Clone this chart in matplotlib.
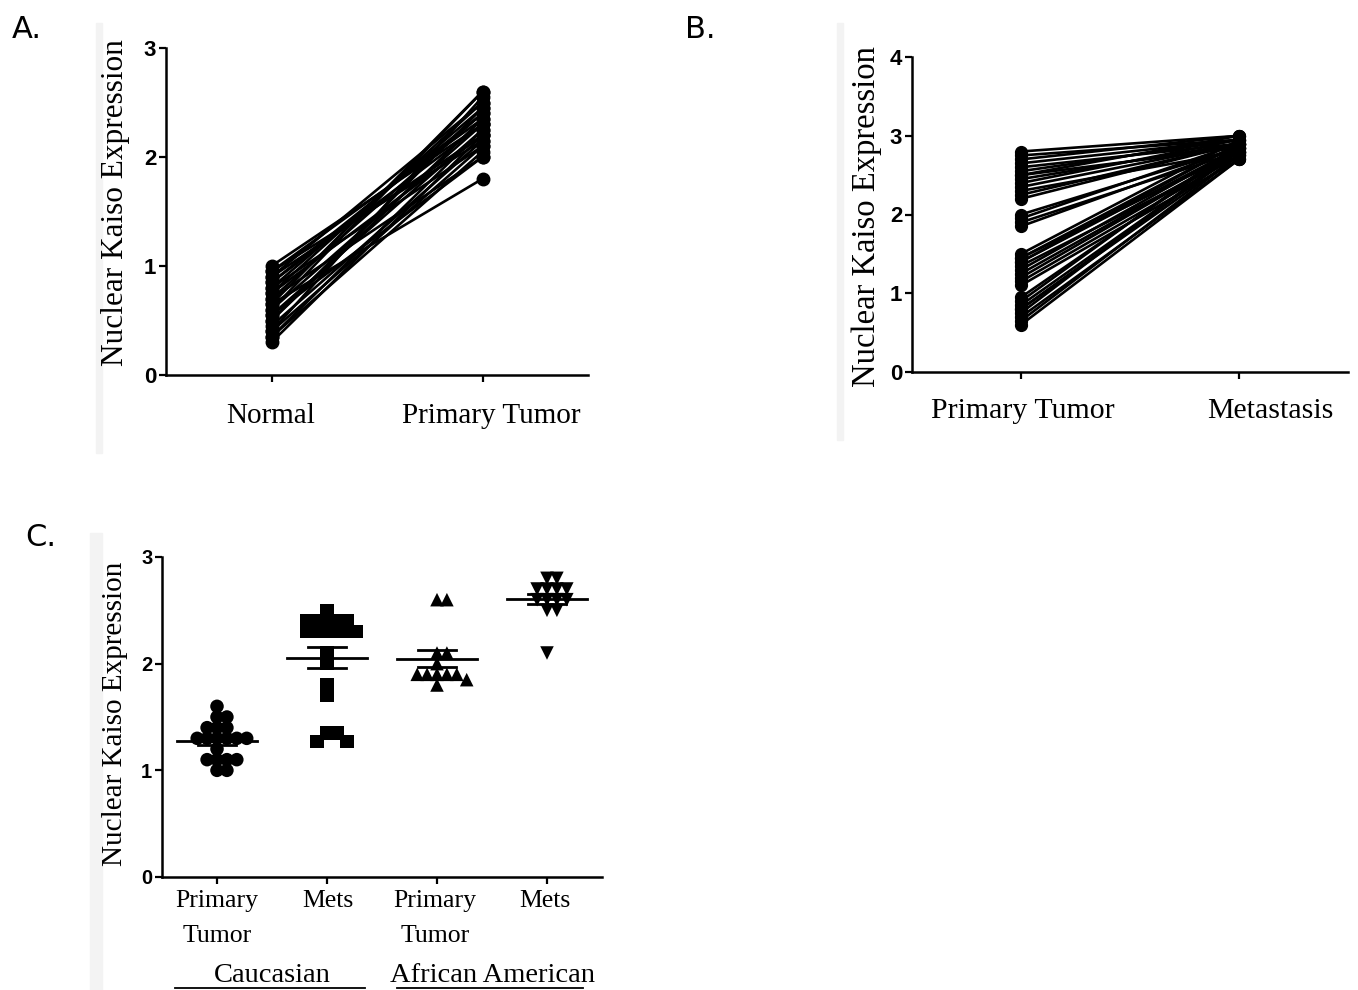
import numpy as np
import matplotlib.pyplot as plt
from matplotlib.patches import Rectangle
from matplotlib.lines import Line2D

# panel A: paired normal vs primary tumor
a_normal = [1.0, 0.95, 0.9, 0.85, 0.8, 0.75, 0.7, 0.65, 0.6, 0.55, 0.5, 0.45, 0.4, 0.35, 0.3,
            0.65, 0.85, 0.5, 0.7, 0.9, 0.4, 0.6, 0.75, 0.55, 0.8, 0.35, 0.95]
a_tumor = [2.3, 2.35, 2.2, 2.4, 2.1, 2.5, 2.0, 1.8, 2.6, 2.25, 2.45, 2.15, 2.55, 2.05, 2.2,
           2.6, 2.3, 2.35, 2.4, 2.5, 2.1, 2.3, 2.2, 2.0, 2.45, 2.25, 2.15]
a_labels = ["Normal", "Primary Tumor"]

# panel B: paired primary tumor vs metastasis
b_primary = [2.8, 2.75, 2.7, 2.6, 2.55, 2.5, 2.45, 2.4, 2.3, 2.2, 2.0, 1.95, 1.9,
             1.5, 1.45, 1.4, 1.35, 1.3, 1.2, 1.1, 0.9, 0.85, 0.8, 0.75, 0.7, 0.6,
             2.65, 2.35, 2.5, 1.85, 1.45, 1.25, 1.15, 0.95, 0.65, 0.8, 2.25, 1.4]
b_meta = [3.0, 2.95, 3.0, 2.9, 2.95, 2.85, 2.9, 2.95, 2.8, 2.9, 2.85, 2.9, 2.8,
          2.95, 2.8, 2.9, 2.75, 2.85, 2.8, 2.7, 2.9, 2.8, 2.75, 2.85, 2.7, 2.7,
          2.95, 2.9, 3.0, 2.85, 2.9, 2.8, 2.75, 2.85, 2.75, 2.8, 2.9, 2.85]
b_labels = ["Primary Tumor", "Metastasis"]

# panel C: column scatter
c_cauc_primary = [1.6, 1.5, 1.5, 1.4, 1.4, 1.4, 1.3, 1.3, 1.3, 1.3, 1.3, 1.3, 1.2, 1.1, 1.1, 1.1, 1.1, 1.0, 1.0]
c_cauc_mets = [2.5, 2.4, 2.4, 2.4, 2.4, 2.4, 2.3, 2.3, 2.3, 2.3, 2.3, 2.3, 2.1, 2.0, 1.8, 1.7, 1.35, 1.35, 1.27, 1.27]
c_aa_primary = [2.6, 2.6, 2.1, 2.1, 2.0, 1.9, 1.9, 1.9, 1.9, 1.9, 1.85, 1.8]
c_aa_mets = [2.8, 2.8, 2.7, 2.7, 2.7, 2.7, 2.6, 2.6, 2.6, 2.6, 2.5, 2.5, 2.1]
c_labels = ["Primary\nTumor", "Mets", "Primary\nTumor", "Mets"]
c_groups = ["Caucasian", "African American"]

W, H = 1358, 990
SERIF = "Liberation Serif"
SANS = "Liberation Sans"

fig = plt.figure(figsize=(W / 100, H / 100), dpi=100)


def box(x0, y0, x1, y1):
    return [x0 / W, 1 - y1 / H, (x1 - x0) / W, (y1 - y0) / H]


def fx(x):
    return x / W


def fy(y):
    return 1 - y / H


def style(ax, ticksize):
    for s in ["top", "right"]:
        ax.spines[s].set_visible(False)
    for s in ["left", "bottom"]:
        ax.spines[s].set_linewidth(1.8)
    ax.tick_params(length=5, width=1.6, direction="out", pad=2)
    for t in ax.get_yticklabels():
        t.set_fontfamily(SANS)
        t.set_fontweight("bold")
        t.set_fontsize(ticksize)


# faint gray strips at the left of each pasted panel
for x0, y0, x1, y1 in [(96, 23, 102, 453), (837, 23, 843, 440), (90, 533, 102, 990)]:
    fig.patches.append(Rectangle((fx(x0), fy(y1)), (x1 - x0) / W, (y1 - y0) / H,
                                 transform=fig.transFigure, color="#f3f3f3", zorder=0))

# ---- panel A
axA = fig.add_axes(box(166, 48, 588, 375))
for n, t in zip(a_normal, a_tumor):
    axA.plot([1, 2], [n, t], color="black", lw=1.9, marker="o", ms=9, clip_on=False)
axA.set_xlim(0.5, 2.5)
axA.set_ylim(0, 3)
axA.set_yticks([0, 1, 2, 3])
axA.set_xticks([1, 2])
axA.set_xticklabels(["", ""])
style(axA, 16)
fig.text(fx(271), fy(423), a_labels[0], family=SERIF, fontsize=21, ha="center", va="baseline")
fig.text(fx(491), fy(423), a_labels[1], family=SERIF, fontsize=21, ha="center", va="baseline")
fig.text(fx(115), fy(203), "Nuclear Kaiso Expression", family=SERIF, fontsize=22.5,
         rotation=90, ha="center", va="center")

# ---- panel B
axB = fig.add_axes(box(912, 57, 1348, 372))
for p, m in zip(b_primary, b_meta):
    axB.plot([1, 2], [p, m], color="black", lw=1.9, marker="o", ms=8.5, clip_on=False)
axB.set_xlim(0.5, 2.5)
axB.set_ylim(0, 4)
axB.set_yticks([0, 1, 2, 3, 4])
axB.set_xticks([1, 2])
axB.set_xticklabels(["", ""])
style(axB, 16)
fig.text(fx(1023), fy(418), b_labels[0], family=SERIF, fontsize=21.5, ha="center", va="baseline")
fig.text(fx(1270), fy(418), b_labels[1], family=SERIF, fontsize=21.5, ha="center", va="baseline")
fig.text(fx(867), fy(217), "Nuclear Kaiso Expression", family=SERIF, fontsize=23.5,
         rotation=90, ha="center", va="center")

# ---- panel C
axC = fig.add_axes(box(162, 557, 602, 877))
PX_X, PX_Y = 110.0, 107.0  # pixels per data unit in panel C


def swarm(vals, step, dmin):
    # simple beeswarm: put each point at the nearest free slot
    placed = []
    offs = []
    for v in vals:
        k = 0
        while True:
            cands = [0.0] if k == 0 else [k * step, -k * step]
            ok = None
            for c in cands:
                if all(np.hypot((c - ox) * PX_X, (v - oy) * PX_Y) >= dmin for ox, oy in placed):
                    ok = c
                    break
            if ok is not None:
                break
            k += 1
        placed.append((ok, v))
        offs.append(ok)
    return np.array(offs)


c_data = [c_cauc_primary, c_cauc_mets, c_aa_primary, c_aa_mets]
c_markers = ["o", "s", "^", "v"]
for i, (vals, mk) in enumerate(zip(c_data, c_markers)):
    x = i + 1 + swarm(vals, 0.09, 9)
    axC.scatter(x, vals, marker=mk, s=95, color="black", edgecolors="none", zorder=3)
    v = np.asarray(vals)
    mean = v.mean()
    sem = v.std(ddof=1) / np.sqrt(len(v))
    axC.plot([i + 1 - 0.36, i + 1 + 0.36], [mean, mean], color="black", lw=2, zorder=4)
    for yy in (mean - sem, mean + sem):
        axC.plot([i + 1 - 0.17, i + 1 + 0.17], [yy, yy], color="black", lw=2, zorder=4)
    axC.plot([i + 1, i + 1], [mean - sem, mean + sem], color="black", lw=2, zorder=4)
axC.set_xlim(0.5, 4.5)
axC.set_ylim(0, 3)
axC.set_yticks([0, 1, 2, 3])
axC.set_xticks([1, 2, 3, 4])
axC.set_xticklabels(["", "", "", ""])
style(axC, 14.5)
for cx, lab in zip([217, 328, 435, 545], c_labels):
    lines = lab.split("\n")
    for k, ln in enumerate(lines):
        fig.text(fx(cx), fy(907 + 35 * k), ln, family=SERIF, fontsize=18.5, ha="center", va="baseline")
fig.text(fx(272), fy(982), c_groups[0], family=SERIF, fontsize=20.5, ha="center", va="baseline")
fig.text(fx(492), fy(982), c_groups[1], family=SERIF, fontsize=20.5, ha="center", va="baseline")
for x0, x1 in [(175, 365), (397, 583)]:
    fig.add_artist(Line2D([fx(x0), fx(x1)], [fy(988), fy(988)], color="black", lw=1.3))
fig.text(fx(115), fy(714), "Nuclear Kaiso Expression", family=SERIF, fontsize=21,
         rotation=90, ha="center", va="center")

# panel letters
fig.text(fx(12), fy(38), "A.", fontsize=22, ha="left", va="baseline")
fig.text(fx(685), fy(38), "B.", fontsize=22, ha="left", va="baseline")
fig.text(fx(25), fy(546), "C.", fontsize=22, ha="left", va="baseline")

fig.savefig("out.png", dpi=100, facecolor="white")
